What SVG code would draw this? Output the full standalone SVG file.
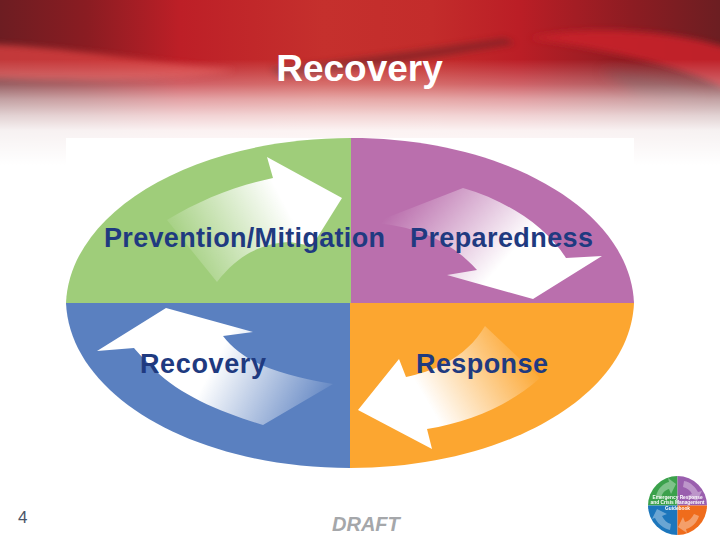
<svg xmlns="http://www.w3.org/2000/svg" width="720" height="540" viewBox="0 0 720 540">
<defs>
<linearGradient id="band" x1="0" x2="1" y1="0" y2="0"><stop offset="0" stop-color="#6d1d22"/><stop offset=".12" stop-color="#8a1c22"/><stop offset=".25" stop-color="#bd1f27"/><stop offset=".45" stop-color="#c5302d"/><stop offset=".6" stop-color="#c32c2b"/><stop offset=".72" stop-color="#bb1e26"/><stop offset=".88" stop-color="#8c1c22"/><stop offset="1" stop-color="#6c1e22"/></linearGradient>
<linearGradient id="fade" x1="0" x2="0" y1="0" y2="1"><stop offset="0" stop-color="#fff" stop-opacity="0"/><stop offset=".36" stop-color="#fff" stop-opacity="0"/><stop offset=".51" stop-color="#fff" stop-opacity=".3"/><stop offset=".6" stop-color="#fff" stop-opacity=".58"/><stop offset=".7" stop-color="#fff" stop-opacity=".8"/><stop offset=".79" stop-color="#fff" stop-opacity=".94"/><stop offset="1" stop-color="#fff"/></linearGradient>
<filter id="b3" x="-20%" y="-50%" width="140%" height="200%"><feGaussianBlur stdDeviation="3"/></filter>
<filter id="b6" x="-20%" y="-80%" width="140%" height="260%"><feGaussianBlur stdDeviation="6"/></filter>
<filter id="soft" x="-5%" y="-5%" width="110%" height="110%"><feGaussianBlur stdDeviation=".6"/></filter>
<filter id="logoSoft" x="-5%" y="-5%" width="110%" height="110%"><feGaussianBlur stdDeviation=".35"/></filter>
<linearGradient id="gG" gradientUnits="userSpaceOnUse" x1="178" y1="262" x2="285" y2="205"><stop offset="0" stop-color="#fff" stop-opacity="0"/><stop offset="1" stop-color="#fff"/></linearGradient>
<linearGradient id="gP" gradientUnits="userSpaceOnUse" x1="410" y1="190" x2="498" y2="268"><stop offset="0" stop-color="#fff" stop-opacity="0"/><stop offset="1" stop-color="#fff"/></linearGradient>
<linearGradient id="gB" gradientUnits="userSpaceOnUse" x1="325" y1="420" x2="215" y2="362"><stop offset="0" stop-color="#fff" stop-opacity="0"/><stop offset="1" stop-color="#fff"/></linearGradient>
<linearGradient id="gO" gradientUnits="userSpaceOnUse" x1="522" y1="340" x2="425" y2="398"><stop offset="0" stop-color="#fff" stop-opacity="0"/><stop offset="1" stop-color="#fff"/></linearGradient>
<clipPath id="logoClip"><circle cx="677.5" cy="505.5" r="29.5"/></clipPath>
<style>
.label{font-family:"Liberation Sans",Arial,sans-serif;font-weight:700;font-size:27px;fill:#1f3a80}
.logoText{font-family:"Liberation Sans",Arial,sans-serif;font-weight:700;font-size:4.8px;fill:#fff;text-anchor:middle}
.logoArrow{fill:#fff;opacity:.35}
</style>
</defs>
<rect width="720" height="540" fill="#fff"/>
<g id="header">
<rect width="720" height="165" fill="url(#band)"/>
<path d="M270 68C340 62 420 50 505 38L515 44C430 58 350 72 280 78Z" fill="#6f2025" opacity=".6" filter="url(#b3)"/>
<path d="M-20 44C60 46 130 60 235 70C190 80 110 82 -20 78Z" fill="#d8413f" opacity=".8" filter="url(#b3)"/>
<path d="M530 38C590 24 680 30 740 52L740 98C700 70 620 52 530 38Z" fill="#c8232b" opacity=".9" filter="url(#b3)"/>
<path d="M600 70C640 72 680 80 704 100L640 96Z" fill="#5f3034" opacity=".5" filter="url(#b6)"/>
<rect width="720" height="165" fill="url(#fade)"/>
</g>
<g id="diagram">
<rect x="66" y="138" width="568" height="330" fill="#fff"/>
<g id="prevention">
<path d="M351 303H66C70 210 195 138 351 138Z" fill="#9fcd7a"/>
<path d="M267 157L342 198L312 246L290 242C265 243 240 252 217 282L167 220C200 200 235 186 273 178Z" fill="url(#gG)" filter="url(#soft)"/>
</g>
<g id="preparedness">
<path d="M351 303H634C630 210 505 138 351 138Z" fill="#ba6fad"/>
<path d="M463 188C505 200 545 225 566 258L602 256L533 299L447 275L477 270C450 240 415 226 373 223Z" fill="url(#gP)" filter="url(#soft)"/>
</g>
<g id="recovery">
<path d="M350 303H66C70 396 195 468 350 468Z" fill="#5a80c0"/>
<path d="M97 351L166 308L253 332L223 336C245 365 285 376 333 384L263 425C220 412 180 395 155 370C145 360 139 354 134 348Z" fill="url(#gB)" filter="url(#soft)"/>
</g>
<g id="response">
<path d="M350 303H634C630 396 505 468 350 468Z" fill="#fca630"/>
<path d="M485 326L540 378C510 405 470 422 427 429L432 449L358 410L399 359L406 377C430 372 465 360 485 326Z" fill="url(#gO)" filter="url(#soft)"/>
</g>
<text class="label" x="104" y="247" textLength="281">Prevention/Mitigation</text>
<text class="label" x="410" y="247" textLength="183">Preparedness</text>
<text class="label" x="140" y="373" textLength="126">Recovery</text>
<text class="label" x="416" y="373" textLength="132">Response</text>
</g>
<text id="title" x="359.500" y="81" text-anchor="middle" font-family="'Liberation Sans',Arial,sans-serif" font-weight="700" font-size="37" fill="#fff">Recovery</text>
<text id="page" x="18" y="523" font-family="'Liberation Sans',Arial,sans-serif" font-size="17" fill="#4a5568">4</text>
<text id="draft" x="332" y="531" font-family="'Liberation Sans',Arial,sans-serif" font-weight="700" font-style="italic" font-size="20" fill="#a5a7aa">DRAFT</text>
<g id="logo" filter="url(#logoSoft)">
<g clip-path="url(#logoClip)">
<rect x="648" y="476" width="29.500" height="29.500" fill="#3aa14b"/>
<rect x="677.500" y="476" width="30" height="29.500" fill="#9a5eae"/>
<rect x="648" y="505.500" width="29.500" height="30" fill="#1c76bc"/>
<rect x="677.500" y="505.500" width="30" height="30" fill="#ef6c1c"/>
</g>
<path class="logoArrow" d="M656 496C658 488 664 483 669 482L668 478L676 484L671 494L669 489C665 490 662 493 661 498Z"/>
<path class="logoArrow" d="M684 481C691 482 696 488 698 492L702 491L697 501L687 496L692 494C690 490 687 488 683 487Z"/>
<path class="logoArrow" d="M655 518L652 519L657 509L667 514L662 516C664 520 667 523 671 524L670 530C663 528 658 524 655 518Z"/>
<path class="logoArrow" d="M699 516C697 523 691 528 686 529L687 533L678 527L683 517L685 522C689 521 692 518 694 514Z"/>
<text class="logoText" x="677.500" y="498.500">Emergency Response</text>
<text class="logoText" x="677.500" y="504">and Crisis Management</text>
<text class="logoText" x="677.500" y="509.500">Guidebook</text>
</g>
</svg>
